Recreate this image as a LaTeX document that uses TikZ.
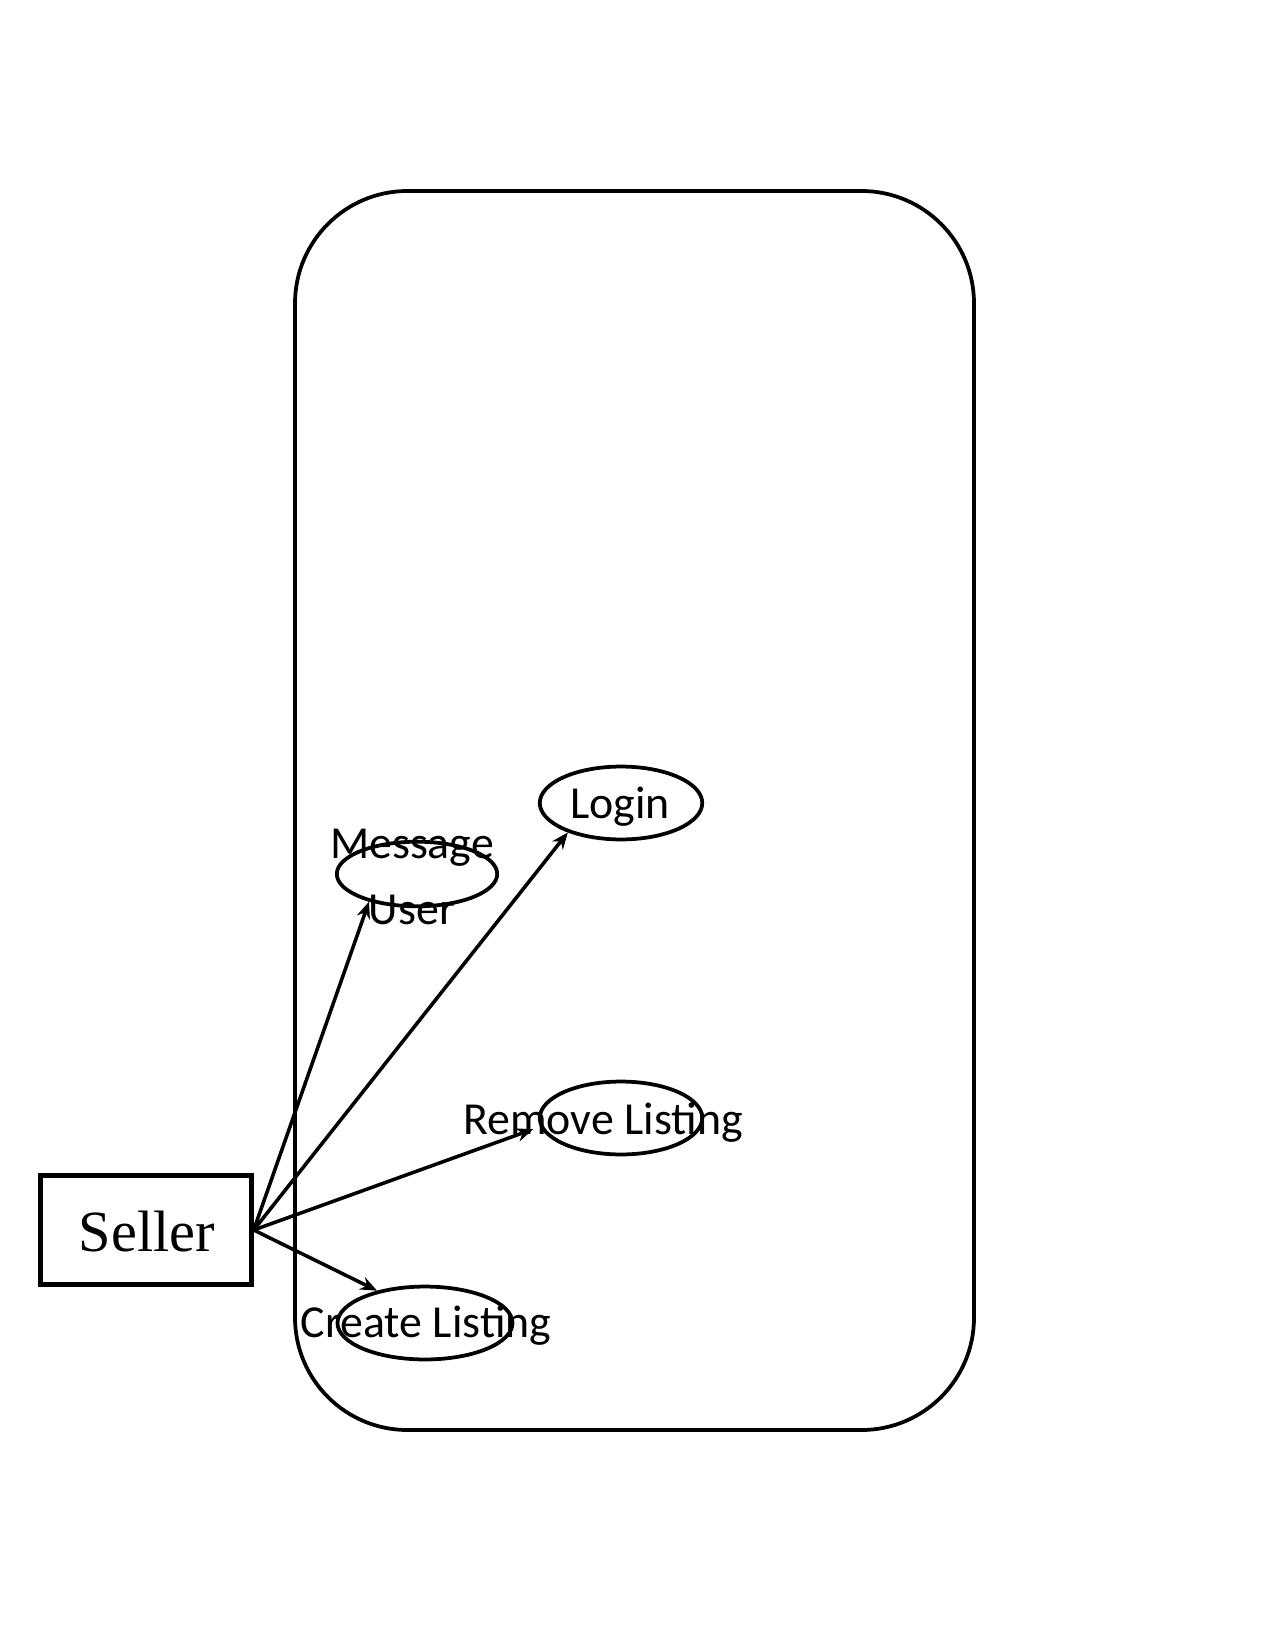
\documentclass[tikz,border=0pt]{standalone}
\usepackage{fontspec}
\setmainfont{Carlito}
\newfontfamily\sellerfont{Liberation Serif}
\usetikzlibrary{shapes.geometric,arrows.meta}

\begin{document}
\begin{tikzpicture}[x=0.48pt,y=-0.48pt,
	usecase/.style={draw,ellipse,line width=1.8pt,minimum width=78pt,minimum height=35pt,inner sep=0pt},
	uctext/.style={font=\fontsize{22}{32}\selectfont,align=center,inner sep=0pt},
	arr/.style={line width=1.7pt,-{Stealth[length=8pt,width=6.5pt]}}]
	\useasboundingbox (0,0) rectangle (1275,1650);
	\draw [line width=1.8pt, rounded corners=54pt] (295,191) rectangle (974,1430);

	\node[draw, line width=2.4pt, minimum width=101pt, minimum height=52pt] (seller) at (146,1230) {};
	\node[font=\sellerfont\fontsize{28}{30}\selectfont, anchor=base] (sellertxt) at (147,1251) {Seller};

	\node[usecase] (login) at (621,803) {};
	\node[usecase, minimum width=77pt, minimum height=31pt] (msg) at (417,874) {};
	\node[usecase] (remove) at (621,1118) {};
	\node[usecase, minimum width=84pt] (create) at (425,1323) {};

	\node[uctext, anchor=base] (logintxt) at (620,818) {Login};
	\node[uctext] (msgtxt) at (412,877) {Message\\User};
	\node[uctext, anchor=base] (removetxt) at (603,1134) {Remove Listing};
	\node[uctext, anchor=base] (createtxt) at (426,1337) {Create Listing};

	\draw [arr] (seller.east) -- (msg.210);
	\draw [arr] (seller.east) -- (login.209);
	\draw [arr] (seller.east) -- ([xshift=-4pt]remove.188);
	\draw [arr] (seller.east) -- (create.146);
\end{tikzpicture}
\end{document}
